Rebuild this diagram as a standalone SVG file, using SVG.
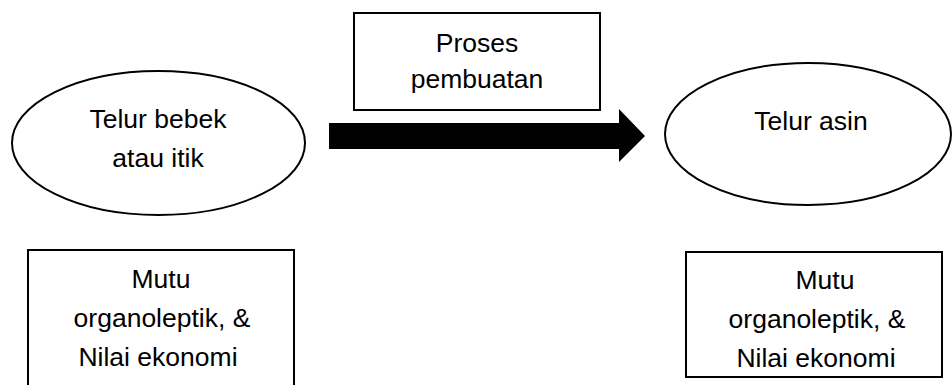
<svg xmlns="http://www.w3.org/2000/svg" width="952" height="385" viewBox="0 0 952 385">
<style>
.shape{fill:#fff;stroke:#000;stroke-width:2}
.t{font-family:"Liberation Sans",Arial,sans-serif;font-size:26.5px;fill:#000;text-anchor:middle}
</style>
<rect width="952" height="385" fill="#fff"/>
<g id="telur-bebek">
<ellipse class="shape" cx="158.5" cy="143" rx="146.5" ry="72"/>
<text class="t" x="158" y="128">Telur bebek</text>
<text class="t" x="158" y="167">atau itik</text>
</g>
<g id="proses">
<rect class="shape" x="354" y="13" width="246" height="97"/>
<text class="t" x="477" y="52">Proses</text>
<text class="t" x="477" y="88">pembuatan</text>
</g>
<g id="telur-asin">
<ellipse class="shape" cx="808" cy="134" rx="143" ry="71"/>
<text class="t" x="811" y="130">Telur asin</text>
</g>
<g id="mutu-kiri">
<rect class="shape" x="28" y="250" width="266" height="160"/>
<text class="t" x="161" y="288">Mutu</text>
<text class="t" x="162" y="327">organoleptik, &amp;</text>
<text class="t" x="158" y="366">Nilai ekonomi</text>
</g>
<g id="mutu-kanan">
<rect class="shape" x="686" y="252" width="256" height="125"/>
<text class="t" x="825" y="289">Mutu</text>
<text class="t" x="817" y="328">organoleptik, &amp;</text>
<text class="t" x="816" y="367">Nilai ekonomi</text>
</g>
<g id="connectors">
<polygon points="329,123 619,123 619,109 645,136 619,162 619,149 329,149" fill="#000"/>
</g>
</svg>
